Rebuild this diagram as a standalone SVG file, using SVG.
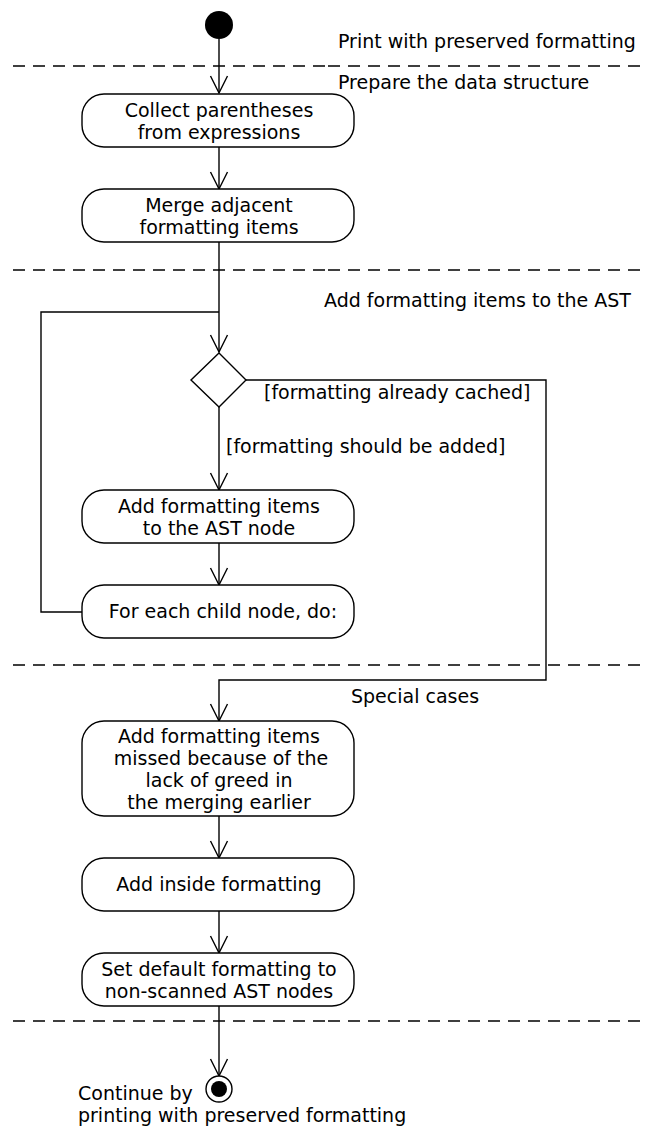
<svg xmlns="http://www.w3.org/2000/svg" width="649" height="1127" viewBox="0 0 649 1127">
<style>
text{font-family:"DejaVu Sans",sans-serif;font-size:19px;fill:#000}
.c{text-anchor:middle}
.box{fill:#fff;stroke:#000;stroke-width:1.4}
.ln{fill:none;stroke:#000;stroke-width:1.4}
.sep{fill:none;stroke:#000;stroke-width:1.4;stroke-dasharray:12,8}
</style>
<defs>
<marker id="ah" markerUnits="userSpaceOnUse" viewBox="-20 -10 22 20" refX="0" refY="0" markerWidth="22" markerHeight="20" orient="auto">
<path d="M-17,-8.5 L0,0 L-17,8.5" fill="none" stroke="#000" stroke-width="1.4"/>
</marker>
</defs>
<g id="separators">
<line class="sep" x1="13" y1="66" x2="328" y2="66"/><line class="sep" x1="328" y1="66" x2="640" y2="66"/>
<line class="sep" x1="13" y1="270" x2="328" y2="270"/><line class="sep" x1="328" y1="270" x2="640" y2="270"/>
<line class="sep" x1="13" y1="665" x2="328" y2="665"/><line class="sep" x1="328" y1="665" x2="640" y2="665"/>
<line class="sep" x1="13" y1="1021" x2="328" y2="1021"/><line class="sep" x1="328" y1="1021" x2="640" y2="1021"/>
</g>
<g id="section-labels">
<text x="338" y="48">Print with preserved formatting</text>
<text x="338" y="89">Prepare the data structure</text>
<text x="324" y="307">Add formatting items to the AST</text>
<text x="351" y="703">Special cases</text>
</g>
<g id="connectors">
<line class="ln" x1="219" y1="39" x2="219" y2="93" marker-end="url(#ah)"/>
<line class="ln" x1="219" y1="147" x2="219" y2="189" marker-end="url(#ah)"/>
<line class="ln" x1="219" y1="242" x2="219" y2="352" marker-end="url(#ah)"/>
<polyline class="ln" points="82,612 41,612 41,312 219,312"/>
<line class="ln" x1="219" y1="407" x2="219" y2="490" marker-end="url(#ah)"/>
<polyline class="ln" points="246,380 546,380 546,680 219,680 219,721" marker-end="url(#ah)"/>
<line class="ln" x1="219" y1="543" x2="219" y2="585" marker-end="url(#ah)"/>
<line class="ln" x1="219" y1="816" x2="219" y2="858" marker-end="url(#ah)"/>
<line class="ln" x1="219" y1="911" x2="219" y2="953" marker-end="url(#ah)"/>
<line class="ln" x1="219" y1="1006" x2="219" y2="1076" marker-end="url(#ah)"/>
<text x="226" y="453">[formatting should be added]</text>
<text x="264" y="399">[formatting already cached]</text>
</g>
<g id="start"><circle cx="219" cy="25" r="14" fill="#000"/></g>
<g id="n1"><rect class="box" x="82" y="94" width="272" height="53" rx="22"/><text class="c" x="219" y="117">Collect parentheses</text><text class="c" x="219" y="139">from expressions</text></g>
<g id="n2"><rect class="box" x="82" y="189" width="272" height="53" rx="22"/><text class="c" x="219" y="212">Merge adjacent</text><text class="c" x="219" y="234">formatting items</text></g>
<g id="decision"><polygon class="box" points="219,353 246,380 219,407 191,380"/></g>
<g id="n3"><rect class="box" x="82" y="490" width="272" height="53" rx="22"/><text class="c" x="219" y="513">Add formatting items</text><text class="c" x="219" y="535">to the AST node</text></g>
<g id="n4"><rect class="box" x="82" y="585" width="272" height="53" rx="22"/><text class="c" x="223" y="618">For each child node, do:</text></g>
<g id="n5"><rect class="box" x="82" y="721" width="272" height="95" rx="22"/><text class="c" x="219" y="743">Add formatting items</text><text class="c" x="221" y="765">missed because of the</text><text class="c" x="219" y="787">lack of greed in</text><text class="c" x="219" y="809">the merging earlier</text></g>
<g id="n6"><rect class="box" x="82" y="858" width="272" height="53" rx="22"/><text class="c" x="219" y="891">Add inside formatting</text></g>
<g id="n7"><rect class="box" x="82" y="953" width="272" height="53" rx="22"/><text class="c" x="219" y="976">Set default formatting to</text><text class="c" x="219" y="998">non-scanned AST nodes</text></g>
<g id="end"><circle cx="219" cy="1089" r="13" fill="#fff" stroke="#000" stroke-width="1.4"/><circle cx="219" cy="1089" r="8" fill="#000"/>
<text x="78" y="1100">Continue by</text><text x="78" y="1122">printing with preserved formatting</text></g>
</svg>
